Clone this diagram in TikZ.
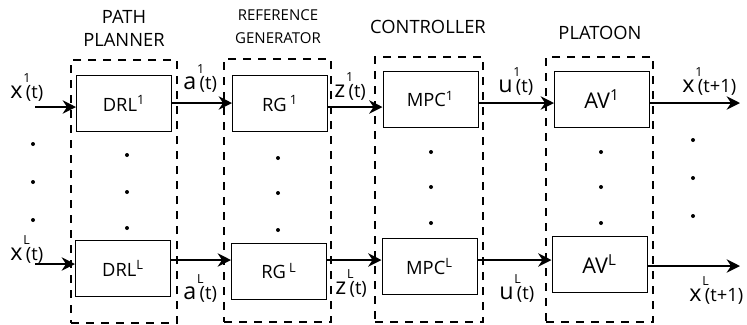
\documentclass[tikz,border=0pt]{standalone}
\usepackage{fontspec}
\setmainfont{Open Sans}
\usetikzlibrary{positioning,arrows.meta}
\tikzset{
  block/.style={
    draw, line width=0.6pt,
    minimum width=57pt, minimum height=33.6pt,
    inner sep=0pt, font=\fontsize{11}{13}\selectfont
  },
  group/.style={
    draw, line width=1.5pt, dash pattern=on 5pt off 4pt,
    inner sep=0pt
  },
  title/.style={align=center, inner sep=0pt, font=\fontsize{11}{13.8}\selectfont},
  sig/.style={inner sep=0pt, anchor=base west, font=\fontsize{14}{14}\selectfont},
  arrow/.style={-{Stealth[length=8pt,width=8pt]}, line width=1.2pt}
}
\newcommand{\sgl}[3]{#1\rlap{\raisebox{9.5pt}{\fontsize{7.5}{7.5}\selectfont\kern0.5pt#2}}\kern2pt{\fontsize{11}{11}\selectfont #3}}

\begin{document}
\begin{tikzpicture}[x=0.6pt, y=-0.6pt]
  \useasboundingbox (0,0) rectangle (747,324);

  % dashed groups
  \node[group, minimum width=63.6pt, minimum height=157.8pt] (pp) at (124,191.5) {};
  \node[group, minimum width=64.2pt, minimum height=157.8pt] (rg) at (277.5,190.5) {};
  \node[group, minimum width=64.8pt, minimum height=159pt] (ctrl) at (429,189.5) {};
  \node[group, minimum width=64.2pt, minimum height=159pt] (plt) at (599.5,189.5) {};

  \node[title] (pptitle) at (124,28) {PATH\\PLANNER};
  \node[title, font=\fontsize{9}{13.8}\selectfont] (rgtitle) at (278,27) {REFERENCE\\GENERATOR};
  \node[title] (ctrltitle) at (428,27) {CONTROLLER};
  \node[title] (plttitle) at (600,33) {PLATOON};

  % first row
  \node[block] (drl1) at (124,103.5) {DRL\textsuperscript{1}};
  \node[block] (rg1) at (280,103.5) {RG\,\textsuperscript{1}};
  \node[block] (mpc1) at (430.5,99) {MPC\textsuperscript{1}};
  \node[block, font=\fontsize{13}{13}\selectfont] (av1) at (602,99) {AV\textsuperscript{1}};

  % last row
  \node[block] (drlL) at (123,268.5) {DRL\textsuperscript{L}};
  \node[block] (rgL) at (279,271) {RG\,\textsuperscript{L}};
  \node[block] (mpcL) at (429.5,266.5) {MPC\textsuperscript{L}};
  \node[block, font=\fontsize{13}{13}\selectfont] (avL) at (599.5,264) {AV\textsuperscript{L}};

  % arrow heights
  \coordinate (in1) at (35,107);
  \coordinate (inL) at (35,264);
  \coordinate (out1) at (740,103);
  \coordinate (outL) at (740,266);
  \coordinate (h1) at (0,103);
  \coordinate (h1z) at (0,107);
  \coordinate (hL) at (0,260);

  \draw[arrow] (in1) -- (in1 -| drl1.west);
  \draw[arrow] (drl1.east |- h1) -- (rg1.west |- h1);
  \draw[arrow] (rg1.east |- h1z) -- (mpc1.west |- h1z);
  \draw[arrow] (mpc1.east |- h1) -- (av1.west |- h1);
  \draw[arrow] (av1.east |- out1) -- (out1);

  \draw[arrow] (inL) -- (inL -| drlL.west);
  \draw[arrow] (drlL.east |- hL) -- (rgL.west |- hL);
  \draw[arrow] (rgL.east |- hL) -- (mpcL.west |- hL);
  \draw[arrow] (mpcL.east |- hL) -- (avL.west |- hL);
  \draw[arrow] (avL.east |- outL) -- (outL);

  % signal labels
  \node[sig] (x1) at (10,98) {\sgl{x}{1}{(t)}};
  \node[sig] (a1) at (183,89) {\sgl{a}{1}{(t)}};
  \node[sig] (z1) at (334,97) {\sgl{z}{1}{(t)}};
  \node[sig] (u1) at (498,92) {\sgl{u}{1}{(t)}};
  \node[sig] (xo1) at (682,92) {\sgl{x}{1}{(t+1)}};

  \node[sig] (xL) at (10,260) {\sgl{x}{L}{(t)}};
  \node[sig] (aL) at (183,299) {\sgl{a}{L}{(t)}};
  \node[sig] (zL) at (335,294) {\sgl{z}{L}{(t)}};
  \node[sig] (uL) at (499,299) {\sgl{u}{L}{(t)}};
  \node[sig] (xoL) at (689,301) {\sgl{x}{L}{(t+1)}};

  % vertical dots
  \foreach \x/\ya/\yb/\yc in {33/144/182/220, 127/155/192/228, 278/158/193/230,
                              431/152/187/223, 601/152/187/223, 693/140/178/216}
    \foreach \y in {\ya,\yb,\yc}
      \fill (\x,\y) circle (1.2pt);
\end{tikzpicture}
\end{document}
